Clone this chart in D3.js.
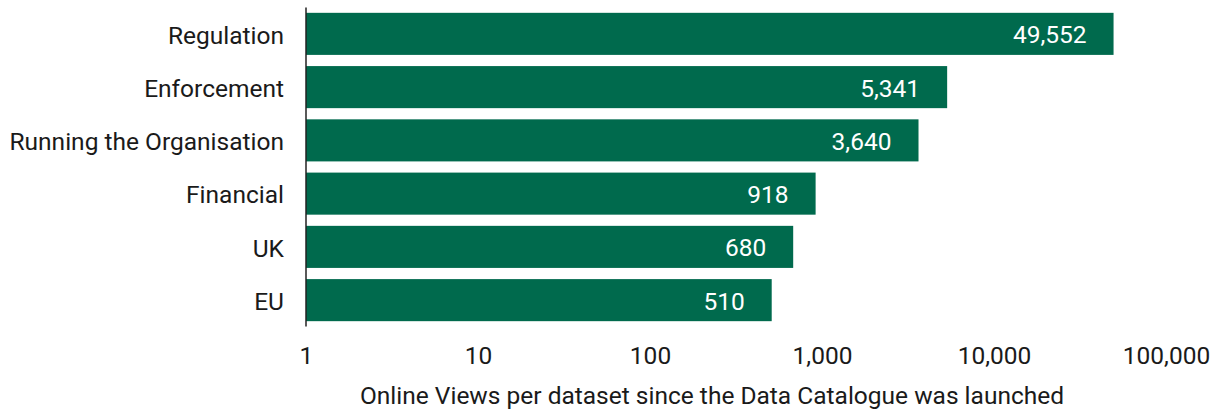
<!DOCTYPE html>
<html>
<head>
<meta charset="utf-8">
<script src="https://cdn.jsdelivr.net/npm/d3@7"></script>
<style>
  html, body { margin: 0; padding: 0; background: #fff; }
  svg { display: block; font-family: Roboto, "Noto Sans", sans-serif; }
</style>
</head>
<body>
<svg id="chart" width="1223" height="410"></svg>
<script>
// Dataset categories and their online view counts
const categories = ["Regulation", "Enforcement", "Running the Organisation", "Financial", "UK", "EU"];
const views = [49552, 5341, 3640, 918, 680, 510];
const tickValues = [1, 10, 100, 1000, 10000, 100000];
const axisTitle = "Online Views per dataset since the Data Catalogue was launched";

const data = categories.map((c, i) => ({ name: c, value: views[i] }));

const svg = d3.select("#chart");
const green = "#006a4d";
const ink = "#1a1a1a";
const fmt = d3.format(",");
const fontSize = 24.5;

const x = d3.scaleLog().domain([1, 100000]).range([306, 1166]);
const y = d3.scaleBand().domain(categories).range([7.5, 326.5]).paddingInner(0.21).paddingOuter(0.1);

// Bars
svg.append("g").selectAll("rect").data(data).join("rect")
  .attr("x", x(1))
  .attr("y", d => y(d.name))
  .attr("width", d => x(d.value) - x(1))
  .attr("height", y.bandwidth())
  .attr("fill", green);

// Value labels inside bar ends
svg.append("g").selectAll("text").data(data).join("text")
  .attr("x", d => x(d.value) - 27)
  .attr("y", d => y(d.name) + y.bandwidth() / 2 + 1)
  .attr("dy", "0.35em")
  .attr("text-anchor", "end")
  .attr("fill", "#fff")
  .attr("font-size", fontSize)
  .text(d => fmt(d.value));

// Category axis
const yAxis = svg.append("g")
  .attr("transform", `translate(${x(1)},0)`)
  .call(d3.axisLeft(y).tickSize(0).tickPadding(22));
yAxis.select(".domain").attr("stroke", "#222").attr("stroke-width", 1.5)
  .attr("d", `M0,${y.range()[0]}V${y.range()[1]}`);
yAxis.selectAll("text").attr("font-size", fontSize).attr("fill", ink)
  .attr("dy", "0.4em")
  .attr("font-family", "Roboto, 'Noto Sans', sans-serif");

// Log value axis (labels only)
const xAxis = svg.append("g")
  .attr("transform", "translate(0,347)")
  .call(d3.axisBottom(x).tickValues(tickValues).tickFormat(fmt).tickSize(0).tickPadding(0));
xAxis.select(".domain").remove();
xAxis.selectAll("text").attr("font-size", fontSize).attr("fill", ink)
  .attr("dy", "0.71em")
  .attr("font-family", "Roboto, 'Noto Sans', sans-serif");

// Axis title
svg.append("text")
  .attr("x", 712)
  .attr("y", 395)
  .attr("dy", "0.35em")
  .attr("text-anchor", "middle")
  .attr("font-size", fontSize)
  .attr("fill", ink)
  .text(axisTitle);
</script>
</body>
</html>
